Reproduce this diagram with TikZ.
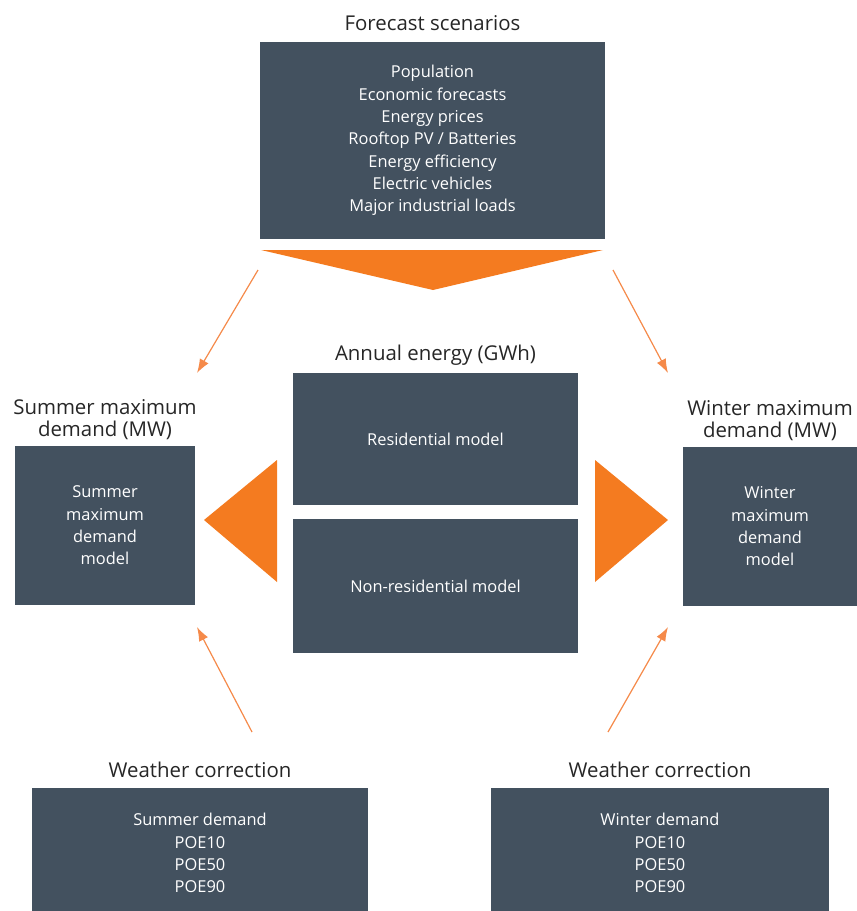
\documentclass[tikz,border=0pt]{standalone}
\usepackage{fontspec}
\setmainfont{Open Sans}
\usetikzlibrary{positioning,arrows.meta}
\definecolor{slate}{HTML}{43515F}
\definecolor{flame}{HTML}{F47B20}
\definecolor{flamelight}{HTML}{F58A4A}

\begin{document}
\begin{tikzpicture}[x=1pt,y=-1pt,
	panel/.style={fill=slate,text=white,align=center,inner sep=0pt,font=\fontsize{16.4}{22.3}\selectfont},
	heading/.style={text=black!85,align=center,inner sep=0pt,font=\fontsize{20.4}{22}\selectfont},
	feed/.style={draw=flamelight,line width=1.2pt,-{Latex[length=14pt,width=10pt]}},
	wedge/.style={fill=flame}]
		\useasboundingbox (0,0) rectangle (857,911);
		\clip (0,0) rectangle (857,911);

		% forecast inputs
		\node[panel,minimum width=345pt,minimum height=197pt]	(scen)	at (432.5,140.5)	{Population\\Economic forecasts\\Energy prices\\Rooftop PV / Batteries\\Energy efficiency\\Electric vehicles\\Major industrial loads};
		\node[heading,above=11pt of scen]						(scenT)		{Forecast scenarios};

		% annual energy
		\node[panel,minimum width=285pt,minimum height=132pt]	(resi)	at (435.5,439)		{Residential model};
		\node[panel,minimum width=285pt,minimum height=134pt]	(nonres)	at (435.5,586)	{Non-residential model};
		\node[heading,above=7pt of resi]						(energyT)	{Annual energy (GWh)};

		% maximum demand
		\node[panel,minimum width=180pt,minimum height=159pt]	(summer)	at (105,525.5)	{Summer\\maximum\\demand\\model};
		\node[heading,above=6pt of summer]						(summerT)	{Summer maximum\\demand (MW)};
		\node[panel,minimum width=174pt,minimum height=159pt]	(winter)	at (770,526.5)	{Winter\\maximum\\demand\\model};
		\node[heading,above=6pt of winter]						(winterT)	{Winter maximum\\demand (MW)};

		% weather correction
		\node[panel,minimum width=336pt,minimum height=130pt]	(wsum)	at (200,853)		{Summer demand\\POE10\\POE50\\POE90};
		\node[panel,minimum width=338pt,minimum height=130pt]	(wwin)	at (660,853)		{Winter demand\\POE10\\POE50\\POE90};
		\node[heading,above=10pt of wsum]						(wsumT)		{Weather correction};
		\node[heading,above=10pt of wwin]						(wwinT)		{Weather correction};

		% big wedges
		\fill[wedge] (261,250) -- (603,250) -- (433,290) -- cycle;
		\fill[wedge] (277,460) -- (277,582) -- (204,520) -- cycle;
		\fill[wedge] (595,460) -- (595,582) -- (668,520) -- cycle;

		% thin arrows
		\coordinate (a1) at (258,270);
		\coordinate (a2) at (613,270);
		\coordinate (a3) at (252,732);
		\coordinate (a4) at (608,732);
		\coordinate (t1) at (197,373);
		\coordinate (t2) at (668,373);
		\coordinate (t3) at (197,627);
		\coordinate (t4) at (668,627);

		\draw[feed] (a1) -- (t1);
		\draw[feed] (a2) -- (t2);
		\draw[feed] (a3) -- (t3);
		\draw[feed] (a4) -- (t4);
	\end{tikzpicture}
\end{document}
